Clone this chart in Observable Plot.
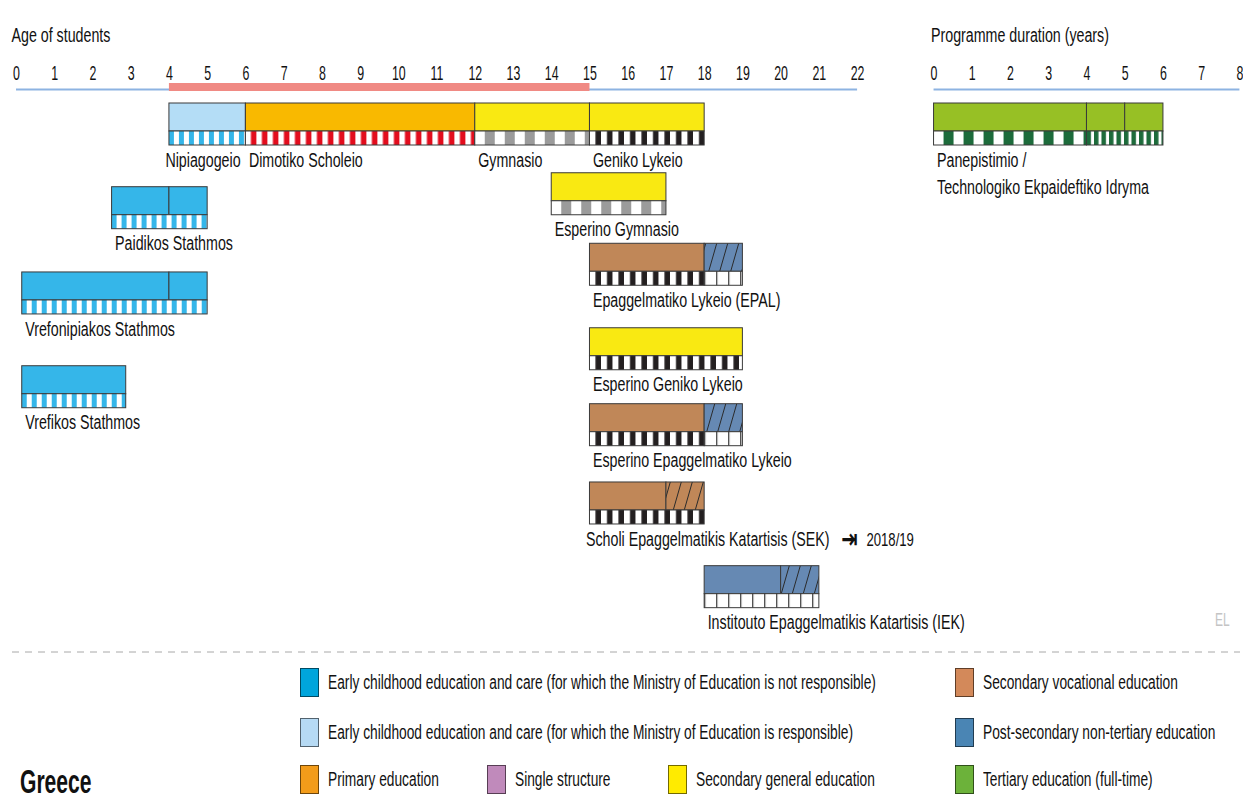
<!DOCTYPE html>
<html><head><meta charset="utf-8">
<script src="https://cdn.jsdelivr.net/npm/d3@7"></script>
<script src="https://cdn.jsdelivr.net/npm/@observablehq/plot@0.6"></script>
<style>
body{margin:0;background:#fff;}
#wrap{position:relative;width:1243px;height:799px;overflow:hidden;font-family:"Liberation Sans",Arial,sans-serif;color:#111;}
.lg{position:absolute;display:flex;align-items:center;height:29px;}
.sw{width:19px;height:29px;box-sizing:border-box;border:1.5px solid rgba(0,0,0,0.55);margin-right:9px;flex:none;}
.lt{display:inline-block;font-size:19.5px;transform:scaleX(0.705);transform-origin:left center;white-space:nowrap;}
#greece{position:absolute;left:20px;top:762px;font-size:34px;font-weight:bold;transform:scaleX(0.62);transform-origin:left top;}
#cc{position:absolute;left:1215px;top:609px;font-size:19px;color:#c4c4c4;transform:scaleX(0.63);transform-origin:left top;}
#sep{position:absolute;left:0;top:646px;}
</style></head>
<body><div id="wrap"></div>
<script>
// ---------- DATA ----------
const ageTicks = [0,1,2,3,4,5,6,7,8,9,10,11,12,13,14,15,16,17,18,19,20,21,22];
const durationTicks = [0,1,2,3,4,5,6,7,8];
const ageTitle = "Age of students";
const durationTitle = "Programme duration (years)";
const compulsoryFrom = 4, compulsoryTo = 15;

const progIds = ["NIP","DIM","GYM","GEL","PAI","VRN","VRE","EGY","EPA","EGL","EEP","SEK","IEK","PAN"];
const progNames = [
  "Nipiagogeio","Dimotiko Scholeio","Gymnasio","Geniko Lykeio",
  "Paidikos Stathmos","Vrefonipiakos Stathmos","Vrefikos Stathmos",
  "Esperino Gymnasio","Epaggelmatiko Lykeio (EPAL)","Esperino Geniko Lykeio",
  "Esperino Epaggelmatiko Lykeio","Scholi Epaggelmatikis Katartisis (SEK)",
  "Institouto Epaggelmatikis Katartisis (IEK)","Panepistimio /\nTechnologiko Ekpaideftiko Idryma"];
const progAxis = ["age","age","age","age","age","age","age","age","age","age","age","age","age","duration"];
const progRow = [0,0,0,0,1.08,2.18,3.39,0.9,1.81,2.9,3.88,4.89,5.97,0];

const segProgramme = ["NIP","DIM","GYM","GEL","PAI","PAI","VRN","VRN","VRE","EGY","EPA","EPA","EGL","EEP","EEP","SEK","SEK","IEK","IEK","PAN","PAN","PAN"];
const segFrom = [4,6,12,15,2.5,4,0.15,4,0.15,14,15,18,15,15,18,15,17,18,20,0,4,5];
const segTo   = [6,12,15,18,4,5,4,5,2.87,17,18,19,19,18,19,17,18,20,21,4,5,6];
const segLevel = ["ecec-moe","primary","secgen","secgen","ecec","ecec","ecec","ecec","ecec","secgen","secvoc","postsec","secgen","secvoc","postsec","secvoc","secvoc","postsec","postsec","tertiary","tertiary","tertiary"];
const segPartTime = [false,false,false,false,false,false,false,false,false,false,false,true,false,false,true,false,true,false,true,false,false,false];

const stripProgramme = ["NIP","DIM","GYM","GEL","PAI","VRN","VRE","EGY","EPA","EPA","EGL","EEP","EEP","SEK","IEK","PAN","PAN"];
const stripFrom = [4,6,12,15,2.5,0.15,0.15,14,15,18,15,15,18,15,18,0,4];
const stripTo   = [6,12,15,18,5,5,2.87,17,18,19,19,18,19,18,21,4,6];
const stripIsced = [0,1,2,3,0,0,0,2,3,4,3,3,4,3,4,6,7];

const noteProgramme = "SEK", noteText = "2018/19";

const legendLabels = [
  "Early childhood education and care (for which the Ministry of Education is not responsible)",
  "Secondary vocational education",
  "Early childhood education and care (for which the Ministry of Education is responsible)",
  "Post-secondary non-tertiary education",
  "Primary education","Single structure","Secondary general education","Tertiary education (full-time)"];
const legendKeys = ["ecec","secvoc","ecec-moe","postsec","primary","single","secgen","tertiary"];
const countryName = "Greece";
const countryCode = "EL";

// ---------- STYLE ----------
const barColor = {"ecec":"#35b6e9","ecec-moe":"#b4ddf6","primary":"#f9b900","secgen":"#f9e912","secvoc":"#c08758","postsec":"#6689b3","tertiary":"#97c025"};
const legendColor = {"ecec":"#00a5dc","ecec-moe":"#b6daf4","primary":"#f39c1a","single":"#c08abb","secgen":"#ffeb00","secvoc":"#d3895a","postsec":"#4a85b4","tertiary":"#6cb23a"};
const isced = { // color, period, stripe width, stripe offset
  0:["#35b6e9",10,5,0], 1:["#e30d1d",11,5.5,5.5], 2:["#9b9b9b",20,10,10], 3:["#231f20",11.5,5.5,6],
  4:["#333333",12,1.2,0], 6:["#1d6b3b",20,10,10], 7:["#1d6b3b",7.5,4.5,0]};
const U = 77.5;               // px per row unit
const TOP_H = 28 / U, STRIP_H = 14 / U;
const DUR0 = 24;              // duration axis origin on the shared x scale
const FONT = '"Liberation Sans",Arial,sans-serif';
const SX_TEXT = 0.73, SX_TICK = 0.62;

// ---------- BUILD ----------
const prog = Object.fromEntries(progIds.map((id, i) => [id, {id, name: progNames[i], axis: progAxis[i], row: progRow[i]}]));
const pos = (id, v) => prog[id].axis === "duration" ? v + DUR0 : v;
const progs = progIds.map(id => {
  const ss = segProgramme.map((p, i) => p === id ? i : -1).filter(i => i >= 0);
  return {...prog[id], x1: pos(id, d3.min(ss, i => segFrom[i]))};
});
const segments = segProgramme.map((p, i) => ({x1: pos(p, segFrom[i]), x2: pos(p, segTo[i]), row: prog[p].row, level: segLevel[i], pt: segPartTime[i]}));
const strips = stripProgramme.map((p, i) => ({x1: pos(p, stripFrom[i]), x2: pos(p, stripTo[i]), row: prog[p].row, isced: stripIsced[i], i}));
const axisLines = [{a: ageTicks[0], b: ageTicks[ageTicks.length-1]}, {a: durationTicks[0] + DUR0, b: durationTicks[durationTicks.length-1] + DUR0}];

const plot = Plot.plot({
  width: 1243, height: 650,
  marginTop: 103, marginLeft: 16, marginRight: 3.6, marginBottom: 0,
  x: {domain: [0, 32], range: [16, 1239.4], axis: null},
  y: {domain: [0, 7], range: [103, 103 + 7 * U], axis: null},
  color: {type: "identity"},
  style: {fontFamily: FONT, fontSize: "19.5px", color: "#111", background: "#fff", overflow: "visible"},
  marks: [
    Plot.text([ageTitle], {x: ageTicks[0], frameAnchor: "top", dy: -75, dx: -5, textAnchor: "start"}),
    Plot.text([durationTitle], {x: DUR0, frameAnchor: "top", dy: -75, dx: -3, textAnchor: "start"}),
    Plot.text(ageTicks, {x: d => d, text: d => String(d), frameAnchor: "top", dy: -38, fontSize: 20}),
    Plot.text(durationTicks, {x: d => d + DUR0, text: d => String(d), frameAnchor: "top", dy: -38, fontSize: 20}),
    Plot.ruleY(axisLines, {x1: "a", x2: "b", y: -14 / U, stroke: "#8db3e2", strokeWidth: 2}),
    Plot.rect([[compulsoryFrom, compulsoryTo]], {x1: d => d[0], x2: d => d[1], y1: -20 / U, y2: -12 / U, fill: "#f08a84"}),
    Plot.rect(segments, {x1: "x1", x2: "x2", y1: d => d.row, y2: d => d.row + TOP_H,
      fill: d => d.pt ? `url(#hatch-${d.level})` : barColor[d.level], stroke: "#3a3a3a", strokeWidth: 1}),
    Plot.rect(strips, {x1: "x1", x2: "x2", y1: d => d.row + TOP_H, y2: d => d.row + TOP_H + STRIP_H,
      fill: d => `url(#strip-${d.i})`, stroke: "#3a3a3a", strokeWidth: 1}),
    Plot.text(progs.filter(d => d.id !== "NIP" && d.id !== "SEK"), {x: "x1", y: "row", text: "name", textAnchor: "start",
      lineAnchor: "top", dy: 44, dx: 3, lineHeight: 1.385}),
    Plot.text(progs.filter(d => d.id === "NIP" || d.id === "SEK"), {x: "x1", y: "row", text: "name", textAnchor: "start",
      lineAnchor: "top", dy: 44, dx: -4, lineHeight: 1.385})
  ]
});

// patterns
const xs = plot.scale("x");
const defs = d3.select(plot).insert("defs", ":first-child");
strips.forEach(s => {
  const [col, period, w, off] = isced[s.isced];
  const p = defs.append("pattern").attr("id", `strip-${s.i}`).attr("patternUnits", "userSpaceOnUse")
    .attr("x", xs.apply(s.x1)).attr("y", 0).attr("width", period).attr("height", 20);
  p.append("rect").attr("width", period).attr("height", 20).attr("fill", "#fff");
  p.append("rect").attr("x", off).attr("width", w).attr("height", 20).attr("fill", col);
});
["secvoc", "postsec"].forEach(level => {
  const p = defs.append("pattern").attr("id", `hatch-${level}`).attr("patternUnits", "userSpaceOnUse")
    .attr("width", 11).attr("height", 28).attr("patternTransform", "skewX(-16)");
  p.append("rect").attr("width", 11).attr("height", 28).attr("fill", barColor[level]);
  p.append("rect").attr("x", 5).attr("width", 1).attr("height", 28).attr("fill", "#2a2a2a");
});

// note after SEK label
d3.select(plot).selectAll("text").filter(function() { return this.textContent === prog[noteProgramme].name; })
  .each(function() {
    const t = d3.select(this);
    t.append("tspan").attr("dx", 16).attr("font-family", "DejaVu Sans").attr("font-weight", "bold").attr("font-size", 27).attr("dy", 2).text("\u21E5");
    t.append("tspan").attr("dx", 12).attr("dy", -2).attr("font-size", 18).text(noteText);
  });

// condense text horizontally (narrow typeface look)
d3.select(plot).selectAll("text").each(function() {
  const sx = /^\d+$/.test(this.textContent) ? SX_TICK : SX_TEXT;
  const tr = this.getAttribute("transform");
  if (tr) this.setAttribute("transform", tr + ` scale(${sx},1)`);
  else {
    const x = +(this.getAttribute("x") || 0);
    this.setAttribute("x", x / sx);
    this.setAttribute("transform", `scale(${sx},1)`);
  }
});

const wrap = document.getElementById("wrap");
wrap.appendChild(plot);
plot.style.position = "absolute"; plot.style.left = "0"; plot.style.top = "0";

// separator
wrap.insertAdjacentHTML("beforeend",
  `<svg id="sep" width="1243" height="12"><line x1="12" x2="1240" y1="6" y2="6" stroke="#a8a8a8" stroke-width="1" stroke-dasharray="7,6"/></svg>`);

// legend
const legCols = {ecec: 300, "ecec-moe": 300, primary: 300, single: 487, secgen: 668, secvoc: 955, postsec: 955, tertiary: 955};
const legRows = {ecec: 668, secvoc: 668, "ecec-moe": 718, postsec: 718, primary: 765, single: 765, secgen: 765, tertiary: 765};
legendKeys.forEach((k, i) => {
  const el = document.createElement("div");
  el.className = "lg";
  el.style.left = legCols[k] + "px";
  el.style.top = legRows[k] + "px";
  el.innerHTML = `<span class="sw" style="background:${legendColor[k]}"></span><span class="lt">${legendLabels[i]}</span>`;
  wrap.appendChild(el);
});
wrap.insertAdjacentHTML("beforeend", `<div id="greece">${countryName}</div><div id="cc">${countryCode}</div>`);
</script>
</body></html>
